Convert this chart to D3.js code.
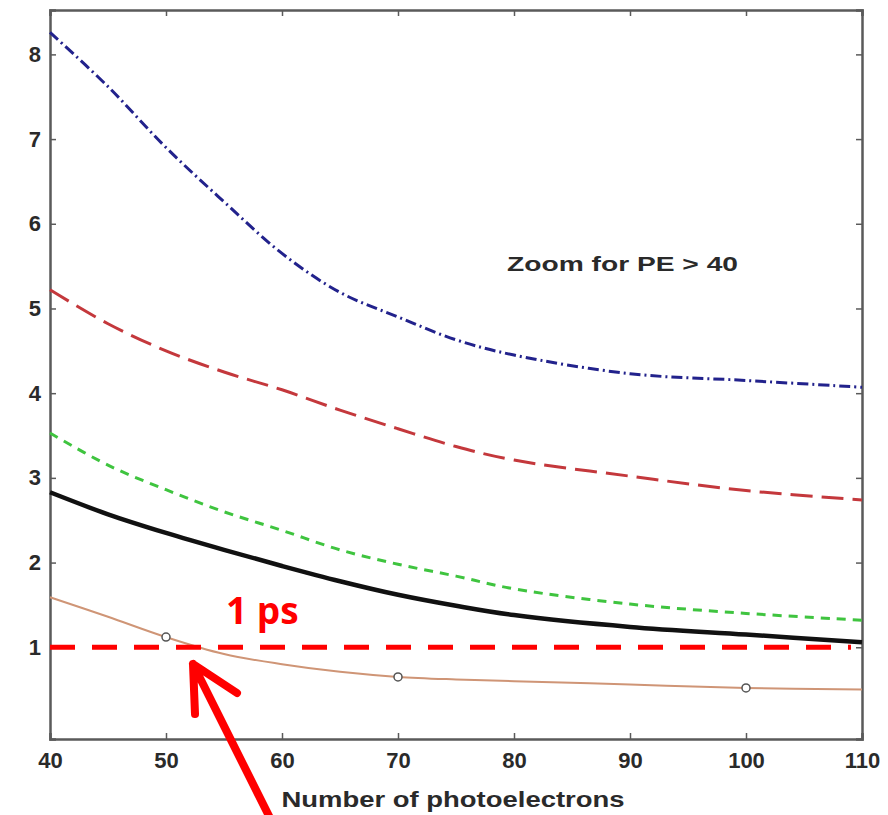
<!DOCTYPE html>
<html>
<head>
<meta charset="utf-8">
<script src="https://cdn.jsdelivr.net/npm/d3@7"></script>
<style>
  body { margin: 0; background: #fff; }
  svg { display: block; }
  .tick text { font-family: "Liberation Sans", Arial, sans-serif; font-weight: bold; font-size: 22px; fill: #2a2a2a; }
</style>
</head>
<body>
<svg id="chart" width="888" height="815"></svg>
<script>
// data
const pe = [40, 45, 50, 55, 60, 65, 70, 75, 80, 90, 100, 110]
const blueSeries   = [8.26, 7.62, 6.90, 6.26, 5.65, 5.19, 4.90, 4.63, 4.45, 4.23, 4.15, 4.07]
const redSeries    = [5.22, 4.82, 4.50, 4.25, 4.04, 3.80, 3.58, 3.37, 3.21, 3.02, 2.85, 2.74]
const greenSeries  = [3.53, 3.15, 2.86, 2.60, 2.38, 2.15, 1.98, 1.84, 1.69, 1.51, 1.40, 1.32]
const blackSeries  = [2.83, 2.57, 2.35, 2.15, 1.96, 1.78, 1.62, 1.49, 1.38, 1.24, 1.15, 1.06]
const orangeSeries = [1.59, 1.36, 1.12, 0.92, 0.80, 0.71, 0.65, 0.62, 0.60, 0.56, 0.52, 0.50]
const markerPE = [50, 70, 100]
const markerVals = [1.12, 0.65, 0.52]
const xTicks = [40, 50, 60, 70, 80, 90, 100, 110]
const yTicks = [1, 2, 3, 4, 5, 6, 7, 8]
const threshold = 1

const svg = d3.select("#chart")
const m = { left: 50, right: 862, top: 10, bottom: 739 }

const x = d3.scaleLinear().domain([40, 110]).range([m.left, m.right])
const y = d3.scaleLinear().domain([-0.083, 8.524]).range([m.bottom, m.top])

svg.append("rect").attr("width", 888).attr("height", 815).attr("fill", "#fff")

// axes, ticks pointing inwards on all four sides
const axisColor = "#5a5a5a"
const gx = svg.append("g").attr("transform", `translate(0,${m.bottom})`)
    .call(d3.axisBottom(x).tickValues(xTicks).tickSize(-6).tickPadding(13))
const gxTop = svg.append("g").attr("transform", `translate(0,${m.top})`)
    .call(d3.axisTop(x).tickValues(xTicks).tickSize(-6).tickFormat(""))
const gy = svg.append("g").attr("transform", `translate(${m.left},0)`)
    .call(d3.axisLeft(y).tickValues(yTicks).tickSize(-6).tickPadding(9))
const gyRight = svg.append("g").attr("transform", `translate(${m.right},0)`)
    .call(d3.axisRight(y).tickValues(yTicks).tickSize(-6).tickFormat(""))

;[gx, gxTop, gy, gyRight].forEach(g => {
    g.select(".domain").attr("stroke", axisColor).attr("stroke-width", 2.5)
    g.selectAll(".tick line").attr("stroke", axisColor).attr("stroke-width", 1.5)
})

const line = d3.line()
    .x((d, i) => x(pe[i]))
    .y(d => y(d))
    .curve(d3.curveCatmullRom.alpha(0.5))

const series = [
    { vals: orangeSeries, color: "#cf9576", width: 2, dash: null },
    { vals: blackSeries, color: "#111", width: 4.5, dash: null },
    { vals: greenSeries, color: "#3fc43f", width: 3, dash: "9,7" },
    { vals: redSeries, color: "#c4383c", width: 3, dash: "22,9" },
    { vals: blueSeries, color: "#22228c", width: 3, dash: "11,4,2,4" }
]

svg.selectAll("path.series")
    .data(series)
    .join("path")
    .attr("class", "series")
    .attr("d", d => line(d.vals))
    .attr("fill", "none")
    .attr("stroke", d => d.color)
    .attr("stroke-width", d => d.width)
    .attr("stroke-dasharray", d => d.dash)

svg.selectAll("circle.marker")
    .data(markerPE)
    .join("circle")
    .attr("class", "marker")
    .attr("cx", d => x(d))
    .attr("cy", (d, i) => y(markerVals[i]))
    .attr("r", 4)
    .attr("fill", "#fff")
    .attr("stroke", "#555")
    .attr("stroke-width", 1.5)

// 1 ps threshold line
svg.append("line")
    .attr("x1", x(40)).attr("x2", x(109.05))
    .attr("y1", y(threshold)).attr("y2", y(threshold))
    .attr("stroke", "#ff0000")
    .attr("stroke-width", 5)
    .attr("stroke-dasharray", "25,17")

svg.append("text")
    .attr("x", 226).attr("y", 624)
    .attr("font-family", "'Open Sans', 'Liberation Sans', sans-serif")
    .attr("font-weight", "bold")
    .attr("font-size", 37)
    .attr("fill", "#ff0000")
    .text("1 ps")

// arrow pointing at crossing
const tip = [193, 664]
svg.append("path")
    .attr("d", `M272,822 L${tip[0]},${tip[1]} M195,714 L${tip[0]},${tip[1]} L237,693`)
    .attr("fill", "none")
    .attr("stroke", "#ff0000")
    .attr("stroke-width", 8)
    .attr("stroke-linecap", "round")
    .attr("stroke-linejoin", "round")

svg.append("text")
    .attr("x", 507).attr("y", 271)
    .attr("font-family", "'Liberation Sans', Arial, sans-serif")
    .attr("font-weight", "bold")
    .attr("font-size", 21)
    .attr("fill", "#2a2a2a")
    .attr("textLength", 231)
    .attr("lengthAdjust", "spacingAndGlyphs")
    .text("Zoom for PE > 40")

svg.append("text")
    .attr("x", 453).attr("y", 807)
    .attr("text-anchor", "middle")
    .attr("font-family", "'Liberation Sans', Arial, sans-serif")
    .attr("font-weight", "bold")
    .attr("font-size", 22)
    .attr("fill", "#2a2a2a")
    .attr("textLength", 343)
    .attr("lengthAdjust", "spacingAndGlyphs")
    .text("Number of photoelectrons")
</script>
</body>
</html>
